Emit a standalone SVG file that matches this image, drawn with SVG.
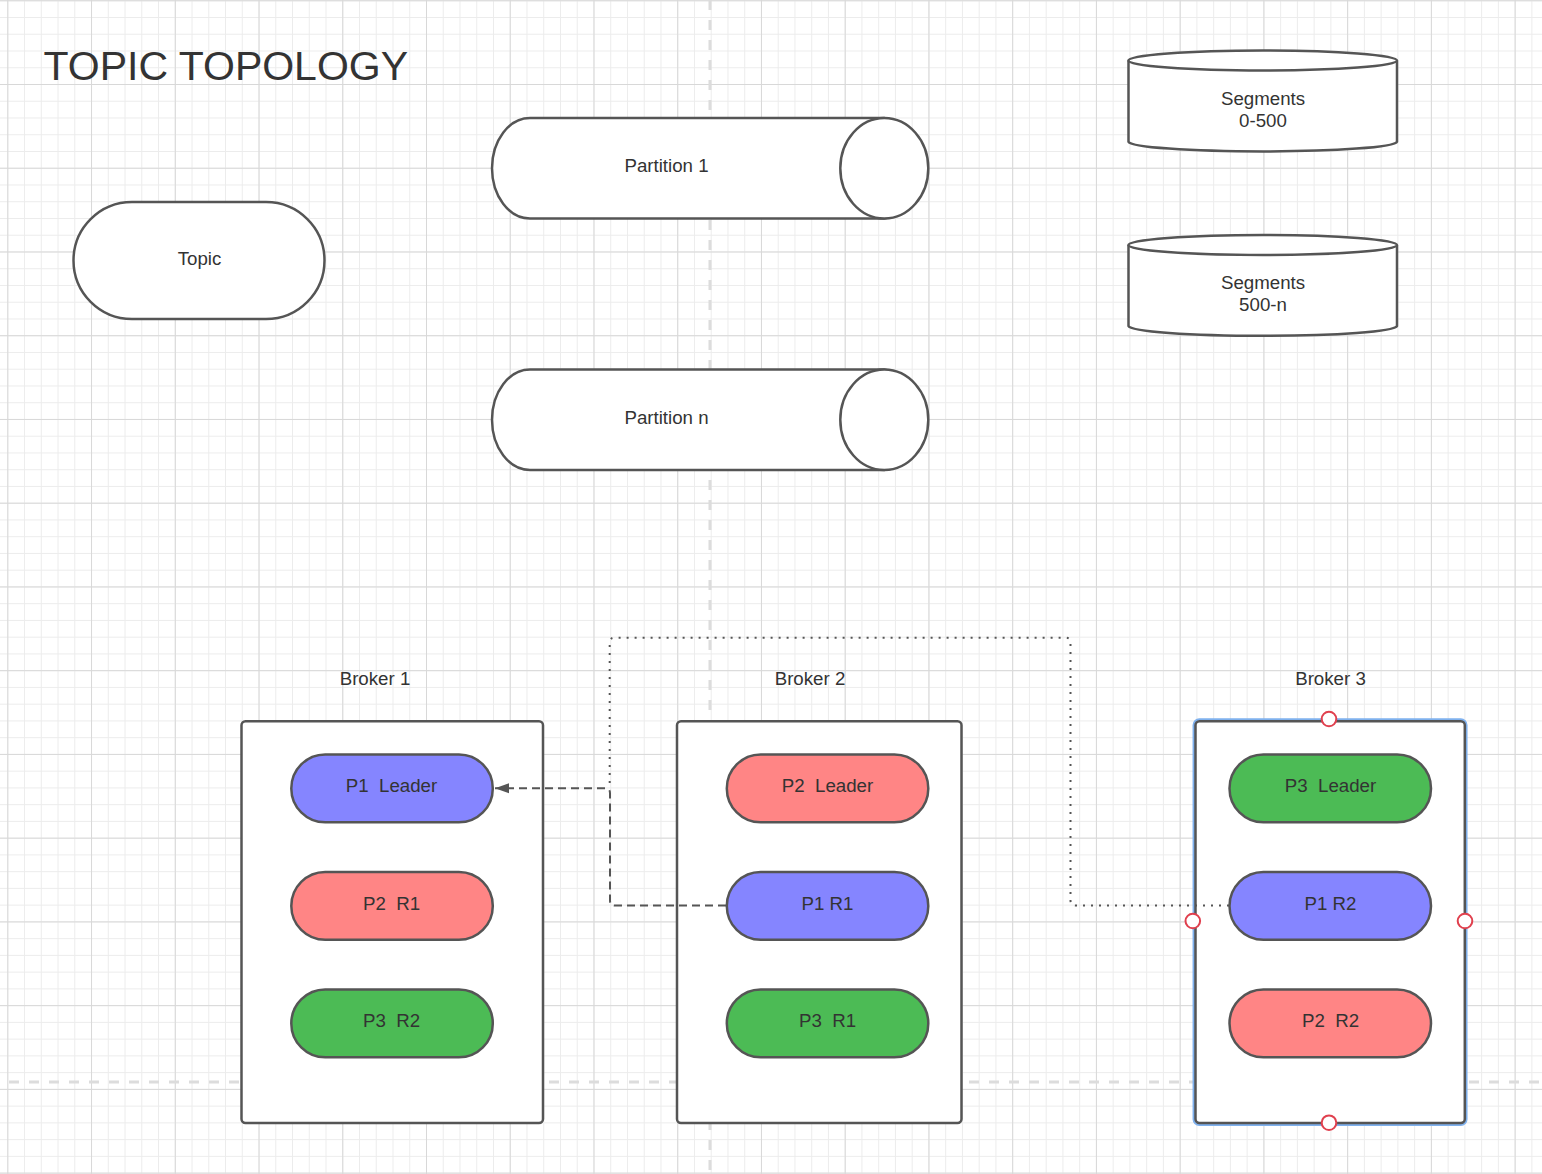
<svg xmlns="http://www.w3.org/2000/svg" width="1542" height="1174" viewBox="0 0 1542 1174">
<defs>
<pattern id="minor" patternUnits="userSpaceOnUse" x="7.3" y="0.26" width="16.748" height="16.748">
<path d="M0.5 0 V16.748 M0 0.5 H16.748" stroke="#ececec" stroke-width="1" fill="none"/>
</pattern>
<pattern id="major" patternUnits="userSpaceOnUse" x="7.3" y="0.26" width="83.74" height="83.74">
<path d="M0.5 0 V83.74 M0 0.5 H83.74" stroke="#d8d8d8" stroke-width="1" fill="none"/>
</pattern>
<marker id="arrow" markerUnits="userSpaceOnUse" markerWidth="16" markerHeight="12" refX="14" refY="6" orient="auto">
<path d="M0 1 L14 6 L0 11 Z" fill="#555"/>
</marker>
<style>
text{font-family:"Liberation Sans",Arial,sans-serif;fill:#333;font-size:18.7px;text-anchor:middle;white-space:pre}
.shape{fill:#fff;stroke:#555;stroke-width:2.5}
.pill{stroke:#555;stroke-width:2.5}
.blue{fill:#8585ff}
.red{fill:#ff8585}
.green{fill:#4cbb55}
.box{fill:#fff;stroke:#555;stroke-width:2.5}
.guide{stroke:#dcdcdc;stroke-width:3;stroke-dasharray:10 10;fill:none}
.conn{fill:none;stroke:#555;stroke-width:2}
.handle{fill:#fff;stroke:#e0404e;stroke-width:2}
</style>
</defs>
<rect width="1542" height="1174" fill="#fff"/>
<rect width="1542" height="1174" fill="url(#minor)"/>
<rect width="1542" height="1174" fill="url(#major)"/>
<g id="guides">
<path class="guide" d="M710 0 V1174"/>
<path class="guide" d="M9 1082 H1542"/>
</g>
<g id="title"><text x="43.5" y="80" style="font-size:41px;text-anchor:start">TOPIC TOPOLOGY</text></g>
<g id="topic">
<rect class="shape" x="73.5" y="202" width="251" height="117" rx="58.5"/>
<text x="199.5" y="265">Topic</text>
</g>
<g id="partition1">
<path class="shape" d="M530 118 H884 A44 50.5 0 0 1 884 218.5 H530 A38 50.25 0 0 1 530 118 Z"/>
<ellipse class="shape" cx="884.3" cy="168.25" rx="44" ry="50.25"/>
<text x="666.5" y="172.3">Partition 1</text>
</g>
<g id="partitionn">
<path class="shape" d="M530 369.5 H884 A44 50.5 0 0 1 884 470 H530 A38 50.25 0 0 1 530 369.5 Z"/>
<ellipse class="shape" cx="884.3" cy="419.75" rx="44" ry="50.25"/>
<text x="666.5" y="423.8">Partition n</text>
</g>
<g id="segments1">
<path class="shape" d="M1128.5 60.5 V141.7 A134.3 10 0 0 0 1397 141.7 V60.5"/>
<ellipse class="shape" cx="1262.7" cy="60.5" rx="134.3" ry="10"/>
<text x="1263" y="104.8">Segments</text>
<text x="1263" y="127">0-500</text>
</g>
<g id="segments2">
<path class="shape" d="M1128.5 245 V326 A134.3 10 0 0 0 1397 326 V245"/>
<ellipse class="shape" cx="1262.7" cy="245" rx="134.3" ry="10"/>
<text x="1263" y="289">Segments</text>
<text x="1263" y="311.3">500-n</text>
</g>
<g id="broker1">
<text x="375" y="685">Broker 1</text>
<rect class="box" x="241.5" y="721.3" width="301.5" height="401.7" rx="4"/>
</g>
<g id="broker2">
<text x="810" y="685">Broker 2</text>
<rect class="box" x="677" y="721.3" width="284.5" height="401.7" rx="4"/>
</g>
<g id="broker3">
<text x="1330.5" y="685">Broker 3</text>
<rect x="1193.8" y="719.5" width="272.5" height="405.2" rx="5.5" fill="none" stroke="#7fb1ee" stroke-width="2.5"/>
<rect class="box" x="1195.5" y="721.3" width="269.3" height="401.7" rx="4"/>
</g>
<g id="p1leader"><rect class="pill blue" x="291.3" y="754.5" width="201.5" height="67.8" rx="33.9"/><text x="391.5" y="792.3">P1  Leader</text></g>
<g id="p2r1"><rect class="pill red" x="291.3" y="872" width="201.5" height="67.8" rx="33.9"/><text x="391.5" y="909.5">P2  R1</text></g>
<g id="p3r2"><rect class="pill green" x="291.3" y="989.5" width="201.5" height="67.8" rx="33.9"/><text x="391.5" y="1027">P3  R2</text></g>
<g id="p2leader"><rect class="pill red" x="726.8" y="754.5" width="201.5" height="67.8" rx="33.9"/><text x="827.5" y="792.3">P2  Leader</text></g>
<g id="p1r1"><rect class="pill blue" x="726.8" y="872" width="201.5" height="67.8" rx="33.9"/><text x="827.5" y="909.5">P1 R1</text></g>
<g id="p3r1"><rect class="pill green" x="726.8" y="989.5" width="201.5" height="67.8" rx="33.9"/><text x="827.5" y="1027">P3  R1</text></g>
<g id="p3leader"><rect class="pill green" x="1229.5" y="754.5" width="201.5" height="67.8" rx="33.9"/><text x="1330.5" y="792.3">P3  Leader</text></g>
<g id="p1r2"><rect class="pill blue" x="1229.5" y="872" width="201.5" height="67.8" rx="33.9"/><text x="1330.5" y="909.5">P1 R2</text></g>
<g id="p2r2"><rect class="pill red" x="1229.5" y="989.5" width="201.5" height="67.8" rx="33.9"/><text x="1330.5" y="1027">P2  R2</text></g>
<g id="connectors">
<path class="conn" stroke-dasharray="8 5" d="M726 905.5 H615 Q610 905.5 610 900.5 V793.3 Q610 788.3 605 788.3 H495" marker-end="url(#arrow)"/>
<path class="conn" stroke-dasharray="2 6" d="M1229 905.5 H1075.5 Q1070.5 905.5 1070.5 900.5 V642.7 Q1070.5 637.7 1065.5 637.7 H614.7 Q609.7 637.7 609.7 642.7 V788"/>
</g>
<g id="handles">
<circle class="handle" cx="1329" cy="719" r="7.3"/>
<circle class="handle" cx="1192.8" cy="921" r="7.3"/>
<circle class="handle" cx="1465" cy="921" r="7.3"/>
<circle class="handle" cx="1329" cy="1122.7" r="7.3"/>
</g>
</svg>
